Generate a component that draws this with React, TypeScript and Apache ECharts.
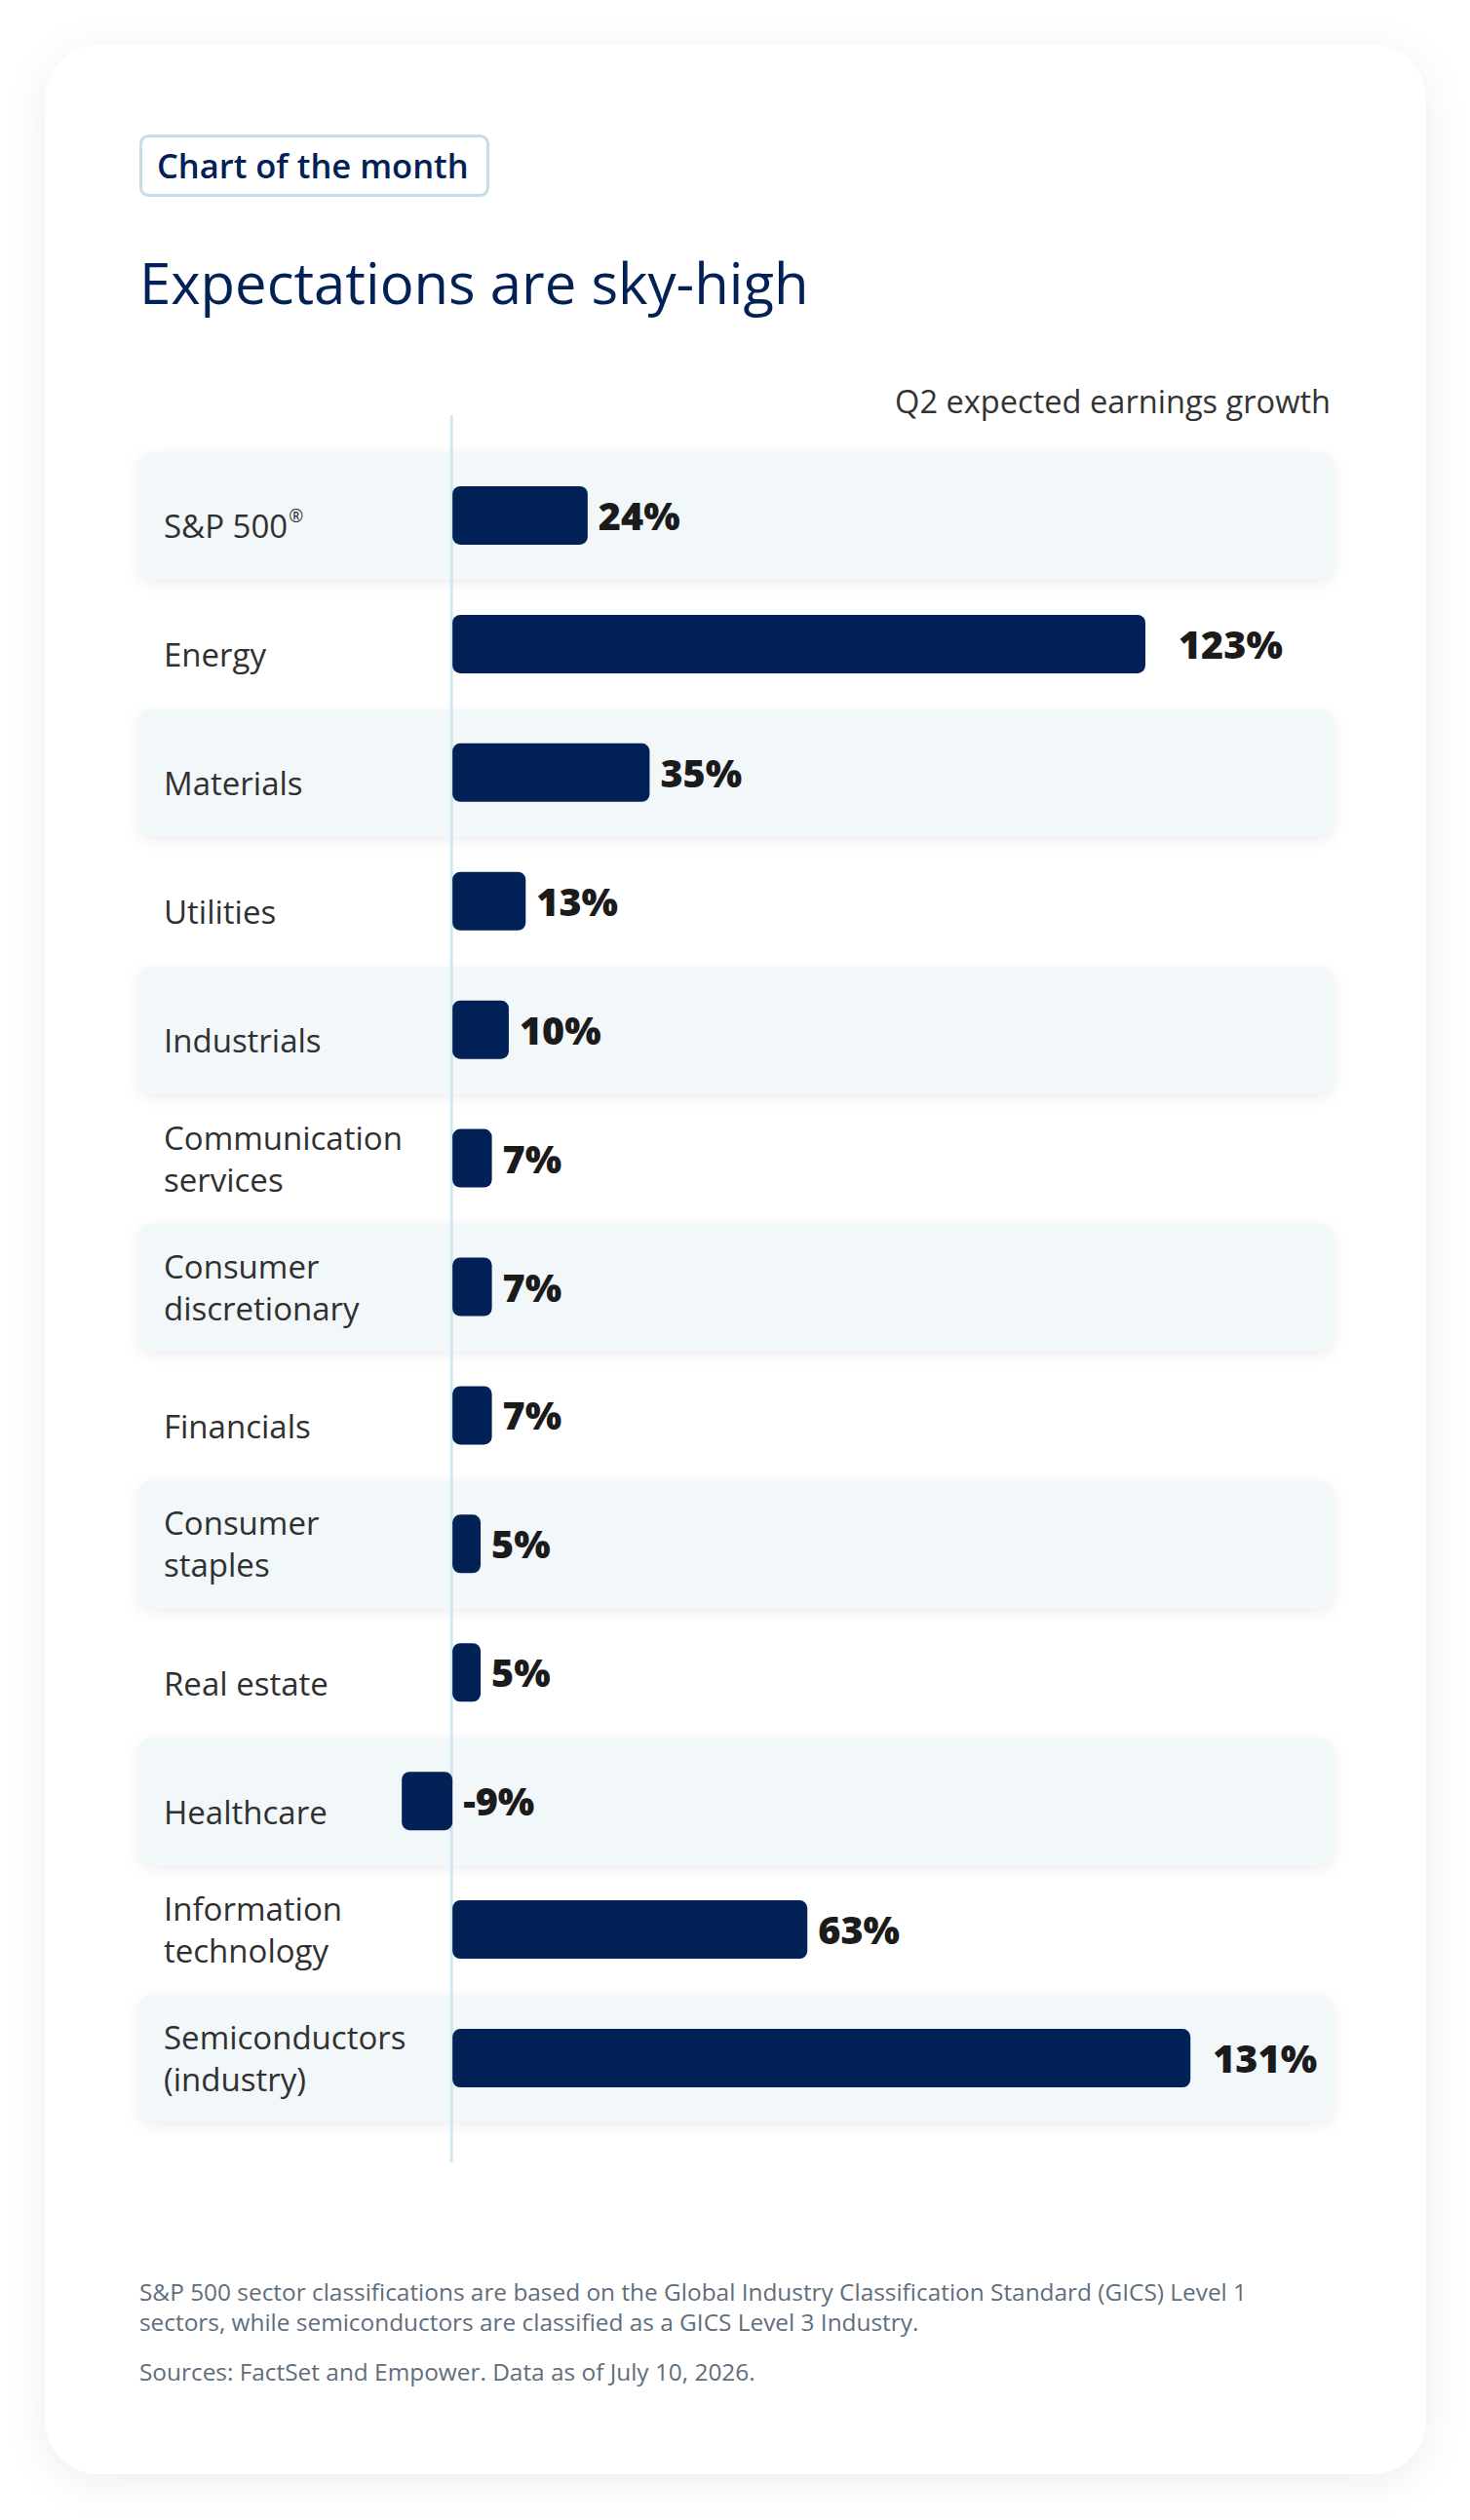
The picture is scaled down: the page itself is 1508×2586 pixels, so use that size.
import React, { useEffect, useRef } from "react";
import * as echarts from "echarts";

const categories = [
  "S&P 500®",
  "Energy",
  "Materials",
  "Utilities",
  "Industrials",
  "Communication\nservices",
  "Consumer\ndiscretionary",
  "Financials",
  "Consumer\nstaples",
  "Real estate",
  "Healthcare",
  "Information\ntechnology",
  "Semiconductors\n(industry)",
];
const growth = [24, 123, 35, 13, 10, 7, 7, 7, 5, 5, -9, 63, 131];

const badgeText = "Chart of the month";
const titleText = "Expectations are sky-high";
const axisTitle = "Q2 expected earnings growth";
const footnoteLines = [
  "S&P 500 sector classifications are based on the Global Industry Classification Standard (GICS) Level 1",
  "sectors, while semiconductors are classified as a GICS Level 3 Industry.",
];
const sourceLine = "Sources: FactSet and Empower. Data as of July 10, 2026.";

// label spacing tweaks (style only)
const labelGapByCategory: Record<string, number> = { Energy: 34, "Semiconductors\n(industry)": 23 };

const NAVY = "#012157";
const FONT = "'Open Sans', 'Noto Sans', sans-serif";
const LABEL_SIZE = 33;

export default function App() {
  const ref = useRef<HTMLDivElement>(null);
  useEffect(() => {
    if (!ref.current) return;
    const chart = echarts.init(ref.current, undefined, { renderer: "svg" });
    chart.setOption({
      animation: false,
      backgroundColor: "#ffffff",
      textStyle: { fontFamily: FONT },
      grid: { left: 233, right: 177, top: 463, bottom: 408, containLabel: false },
      xAxis: { type: "value", min: -40, max: 150, show: false },
      yAxis: {
        type: "category",
        data: categories,
        inverse: true,
        axisLine: { show: false, onZero: false },
        axisTick: { show: false },
        splitLine: { show: false },
        axisLabel: {
          align: "left",
          margin: 65,
          fontSize: LABEL_SIZE,
          fontWeight: 500,
          color: "#303030",
          lineHeight: 43,
          fontFamily: FONT,
          formatter: (v: string) => {
            if (v.endsWith("®")) return `{one|${v.slice(0, -1)}}{s|®}`;
            if (v.indexOf("\n") < 0) return `{one|${v}}`;
            return v;
          },
          rich: {
            one: {
              fontSize: LABEL_SIZE,
              fontWeight: 500,
              color: "#303030",
              fontFamily: FONT,
              lineHeight: 43,
              padding: [22, 0, 0, 0],
            },
            s: {
              fontSize: 18,
              fontWeight: 500,
              color: "#303030",
              fontFamily: FONT,
              lineHeight: 18,
              padding: [0, 0, 0, 1],
            },
          },
        },
      },
      series: [
        {
          type: "bar",
          barWidth: 60,
          z: 2,
          data: growth.map((v, i) => ({
            value: v,
            label: { distance: labelGapByCategory[categories[i]] ?? 11 },
          })),
          itemStyle: { color: NAVY, borderRadius: 8 },
          label: {
            show: true,
            position: "right",
            formatter: (p: any) => `${p.value}%`,
            fontSize: 39.5,
            fontWeight: 800,
            color: "#1b1b1b",
            fontFamily: FONT,
          },
        },
      ],
    });

    const x0 = chart.convertToPixel({ xAxisIndex: 0 }, 0) as number;
    const bands: any[] = [];
    categories.forEach((c, i) => {
      if (i % 2 !== 0) return;
      const cy = chart.convertToPixel({ yAxisIndex: 0 }, i) as number;
      bands.push({
        type: "rect",
        z: -5,
        silent: true,
        shape: { x: 142, y: cy - 65, width: 1226, height: 130, r: 14 },
        style: {
          fill: "#f2f7fa",
          shadowBlur: 14,
          shadowOffsetY: 4,
          shadowColor: "rgba(0,0,0,0.07)",
        },
      });
    });

    chart.setOption({
      graphic: {
        elements: [
          {
            type: "rect",
            z: -10,
            silent: true,
            shape: { x: 46, y: 46, width: 1417, height: 2493, r: 56 },
            style: {
              fill: "#ffffff",
              shadowBlur: 40,
              shadowOffsetY: 8,
              shadowColor: "rgba(0,0,0,0.07)",
            },
          },
          ...bands,
          {
            type: "line",
            z: -1,
            silent: true,
            shape: { x1: x0 - 1, y1: 426, x2: x0 - 1, y2: 2219 },
            style: { stroke: "#d2e6f0", lineWidth: 3 },
          },
          {
            type: "rect",
            z: 1,
            silent: true,
            shape: { x: 144.5, y: 139.5, width: 356, height: 61, r: 8 },
            style: { fill: "#ffffff", stroke: "#c4dde7", lineWidth: 3 },
          },
          {
            type: "text",
            z: 1,
            silent: true,
            x: 161,
            y: 169,
            style: {
              text: badgeText,
              fontSize: 34.5,
              fontWeight: 600,
              fontFamily: FONT,
              fill: NAVY,
              verticalAlign: "middle",
              align: "left",
            },
          },
          {
            type: "text",
            z: 1,
            silent: true,
            x: 143,
            y: 289,
            style: {
              text: titleText,
              fontSize: 58,
              fontWeight: 400,
              fontFamily: FONT,
              fill: NAVY,
              verticalAlign: "middle",
              align: "left",
            },
          },
          {
            type: "text",
            z: 1,
            silent: true,
            x: 1365,
            y: 411,
            style: {
              text: axisTitle,
              fontSize: 32.6,
              fontWeight: 400,
              fontFamily: FONT,
              fill: "#333333",
              verticalAlign: "middle",
              align: "right",
            },
          },
          ...footnoteLines.map((t, i) => ({
            type: "text",
            z: 1,
            silent: true,
            x: 143,
            y: 2351 + i * 31,
            style: {
              text: t,
              fontSize: 24.4,
              fontFamily: FONT,
              fill: "#5f6e7c",
              verticalAlign: "middle",
              align: "left",
            },
          })),
          {
            type: "text",
            z: 1,
            silent: true,
            x: 143,
            y: 2433,
            style: {
              text: sourceLine,
              fontSize: 24.4,
              fontFamily: FONT,
              fill: "#5f6e7c",
              verticalAlign: "middle",
              align: "left",
            },
          },
        ],
      },
    });

    return () => chart.dispose();
  }, []);

  return (
    <div
      ref={ref}
      style={{ position: "absolute", left: 0, top: 0, width: 1508, height: 2586 }}
    />
  );
}
